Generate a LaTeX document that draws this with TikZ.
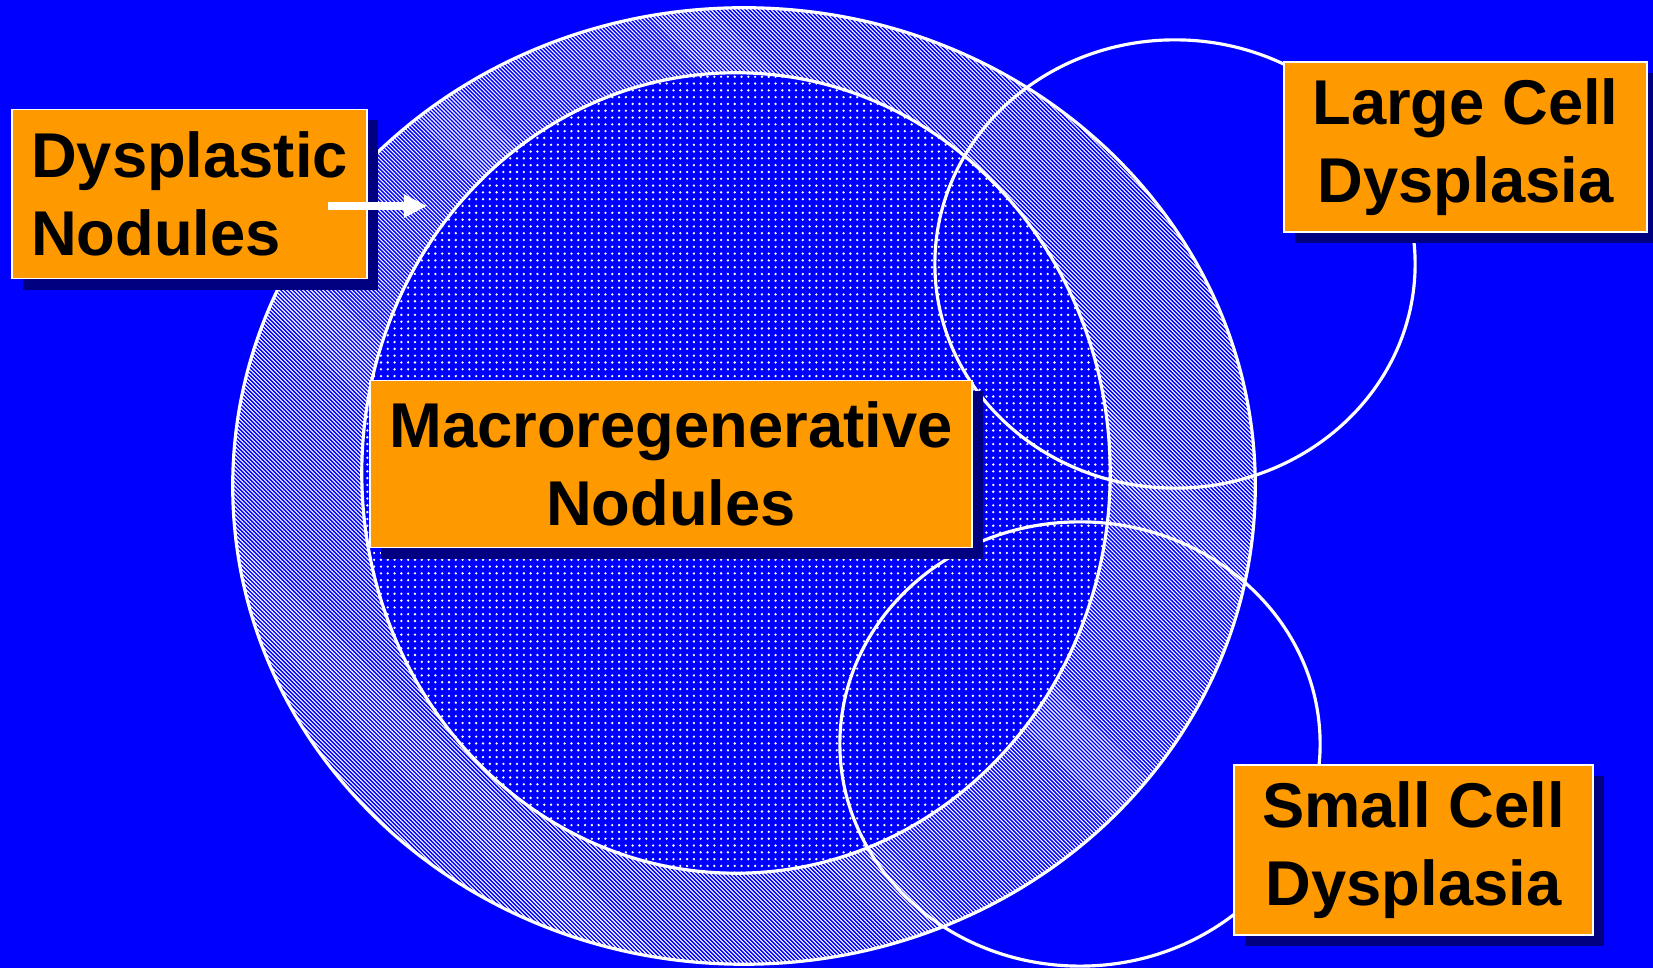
\documentclass[tikz,border=0pt]{standalone}
\usepackage{fontspec}
\setmainfont{Liberation Sans}
\usepackage{tikz}
\usepackage{xcolor}
\usetikzlibrary{arrows.meta,patterns.meta,shadows}
\definecolor{slideblue}{HTML}{0000FF}
\definecolor{boxorange}{HTML}{FF9900}
\definecolor{shadenavy}{HTML}{000080}
\tikzset{
  labelbox/.style={draw=white,fill=boxorange,line width=0.5pt,
                   align=center,inner sep=0pt,text=black,
                   font=\fontsize{18}{22}\selectfont\bfseries,
                   drop shadow={shadow xshift=1.1mm,shadow yshift=-1.1mm,
                                fill=shadenavy,opacity=1}},
  outline/.style={draw=white,line width=0.9pt},
  ringfill/.style={outline,pattern={Lines[angle=-45,distance=0.028284cm,line width=0.011cm]},
                   pattern color=white},
  corefill/.style={outline,preaction={fill=slideblue},
                   pattern={Dots[distance=0.068cm,radius=0.013cm]},
                   pattern color=white},
  whitearr/.style={-{Triangle[length=0.23cm,width=0.22cm]},line width=0.08cm,
                   draw=white}
}
\begin{document}
\begin{tikzpicture}[x=0.01cm,y=-0.01cm]
    \fill[slideblue] (0,0) rectangle (1653,968);
    \useasboundingbox (0,0) rectangle (1653,968);
    % nested nodules
    \path[ringfill] (744,486) ellipse [x radius=5.11cm,y radius=4.78cm];
    \path[corefill] (736,473) ellipse [x radius=3.74cm,y radius=4.00cm];
    % dysplasia circles
    \draw[outline] (1175,264) ellipse [x radius=2.40cm,y radius=2.24cm];
    \draw[outline] (1080,744) ellipse [x radius=2.40cm,y radius=2.22cm];
    % labels
    \node[labelbox,align=left,minimum width=3.55cm,minimum height=1.69cm]
      (dys) at (189.5,194) {Dysplastic\\Nodules};
    \node[labelbox,minimum width=6.02cm,minimum height=1.67cm]
      (macro) at (671,464) {Macroregenerative\\Nodules};
    \node[labelbox,minimum width=3.63cm,minimum height=1.70cm]
      (large) at (1465.5,147) {Large Cell\\Dysplasia};
    \node[labelbox,minimum width=3.59cm,minimum height=1.70cm]
      (small) at (1413.5,850) {Small Cell\\Dysplasia};
    \coordinate (arrtail) at (328,206);
    \coordinate (arrtip) at (427,206);
    \draw[whitearr] (arrtail) -- (arrtip);
  \end{tikzpicture}
\end{document}
